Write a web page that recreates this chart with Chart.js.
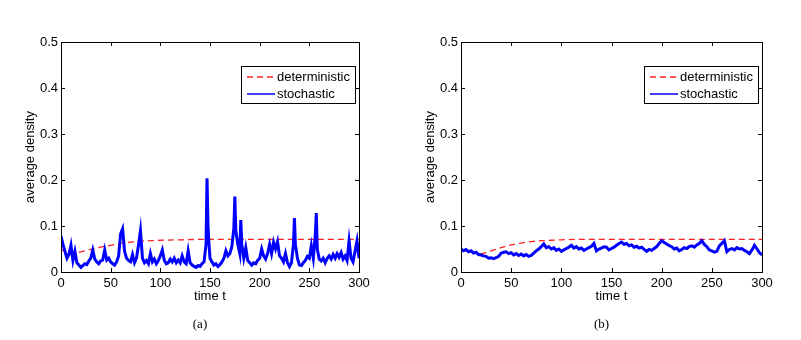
<!DOCTYPE html>
<html lang="en">
<head>
    <meta charset="UTF-8">
    <title>Average density</title>
    <script src="https://cdn.jsdelivr.net/npm/chart.js"></script>
    <style>
        body { margin: 0; background: #fff; }
        .panel { position: absolute; top: 0; }
    </style>
</head>
<body>

    <!-- two panels side by side -->
    <canvas id="panelA" class="panel" style="left:0" width="400" height="340"></canvas>
    <canvas id="panelB" class="panel" style="left:400px" width="401" height="340"></canvas>

    <script>
        // tick values shared by both panels
        const xTicks = [0, 50, 100, 150, 200, 250, 300];
        const yTicks = [0, 0.1, 0.2, 0.3, 0.4, 0.5];
        const yTickLabels = ['0', '0.1', '0.2', '0.3', '0.4', '0.5'];

        // panel (a)
        const timeA = [0, 2, 4, 6, 8, 10, 12, 14, 16, 18, 20, 22, 24, 26, 28, 30, 32, 34, 36, 38,
            40, 42, 44, 46, 48, 50, 52, 54, 56, 58, 60, 62, 64, 66, 68, 70, 72, 74, 76, 78,
            80, 82, 84, 86, 88, 90, 92, 94, 96, 98, 100, 102, 104, 106, 108, 110, 112, 114, 116, 118,
            120, 122, 124, 126, 128, 130, 132, 134, 136, 138, 140, 142, 144, 146, 147, 148, 149, 150, 152, 154,
            156, 158, 160, 162, 164, 166, 168, 170, 172, 174, 175, 176, 178, 180, 181, 182, 184, 186, 188, 190,
            192, 194, 196, 198, 200, 202, 204, 206, 208, 210, 212, 214, 216, 218, 220, 222, 224, 226, 228, 230,
            232, 234, 235, 236, 238, 240, 242, 244, 246, 248, 250, 252, 254, 256, 257, 258, 260, 262, 264, 266,
            268, 270, 272, 274, 276, 278, 280, 282, 284, 286, 288, 290, 292, 294, 296, 298, 300];
        const stochA = [0.078, 0.060, 0.045, 0.030, 0.038, 0.058, 0.025, 0.045, 0.020, 0.015, 0.010, 0.014, 0.018, 0.016, 0.024, 0.030, 0.048, 0.028, 0.022, 0.018,
            0.024, 0.026, 0.048, 0.026, 0.030, 0.022, 0.018, 0.015, 0.022, 0.035, 0.083, 0.094, 0.045, 0.030, 0.025, 0.022, 0.038, 0.020, 0.030, 0.058,
            0.090, 0.030, 0.020, 0.025, 0.018, 0.040, 0.022, 0.028, 0.018, 0.025, 0.035, 0.048, 0.025, 0.018, 0.020, 0.028, 0.022, 0.030, 0.020, 0.026,
            0.020, 0.035, 0.022, 0.018, 0.046, 0.020, 0.015, 0.012, 0.010, 0.014, 0.012, 0.018, 0.022, 0.060, 0.204, 0.100, 0.060, 0.030, 0.022, 0.015,
            0.018, 0.012, 0.016, 0.022, 0.030, 0.046, 0.035, 0.040, 0.055, 0.095, 0.164, 0.090, 0.060, 0.040, 0.113, 0.060, 0.030, 0.053, 0.025, 0.020,
            0.015, 0.020, 0.018, 0.025, 0.030, 0.050, 0.035, 0.028, 0.040, 0.060, 0.040, 0.065, 0.050, 0.066, 0.035, 0.030, 0.022, 0.040, 0.020, 0.012,
            0.020, 0.060, 0.117, 0.060, 0.030, 0.015, 0.014, 0.020, 0.025, 0.034, 0.030, 0.057, 0.030, 0.080, 0.128, 0.050, 0.028, 0.024, 0.030, 0.020,
            0.030, 0.035, 0.028, 0.038, 0.030, 0.040, 0.032, 0.042, 0.028, 0.035, 0.025, 0.068, 0.030, 0.022, 0.045, 0.068, 0.030];
        const detTimeA = [0, 5, 8, 12, 20, 30, 40, 50, 60, 70, 80, 90, 100, 120, 150, 200, 250, 300];
        const detA = [0.050, 0.042, 0.038, 0.039, 0.044, 0.049, 0.054, 0.058, 0.062, 0.065, 0.067, 0.068, 0.069, 0.070, 0.071, 0.071, 0.071, 0.071];

        // panel (b)
        const timeB = [0, 2.5, 5, 7.5, 10, 12.5, 15, 17.5, 20, 22.5, 25, 27.5, 30, 32.5, 35, 37.5, 40, 42.5, 45, 47.5,
            50, 52.5, 55, 57.5, 60, 62.5, 65, 67.5, 70, 72.5, 75, 77.5, 80, 82.5, 85, 87.5, 90, 92.5, 95, 97.5,
            100, 102.5, 105, 107.5, 110, 112.5, 115, 117.5, 120, 122.5, 125, 127.5, 130, 132.5, 135, 137.5, 140, 142.5, 145, 147.5,
            150, 152.5, 155, 157.5, 160, 162.5, 165, 167.5, 170, 172.5, 175, 177.5, 180, 182.5, 185, 187.5, 190, 192.5, 195, 197.5,
            200, 202.5, 205, 207.5, 210, 212.5, 215, 217.5, 220, 222.5, 225, 227.5, 230, 232.5, 235, 237.5, 240, 242.5, 245, 247.5,
            250, 252.5, 255, 257.5, 260, 262.5, 265, 267.5, 270, 272.5, 275, 277.5, 280, 282.5, 285, 287.5, 290, 292.5, 295, 297.5, 300];
        const stochB = [0.050, 0.046, 0.049, 0.044, 0.046, 0.041, 0.043, 0.038, 0.037, 0.035, 0.034, 0.030, 0.031, 0.029, 0.031, 0.034, 0.041, 0.043, 0.044, 0.040,
            0.042, 0.037, 0.040, 0.036, 0.039, 0.035, 0.038, 0.034, 0.036, 0.041, 0.046, 0.050, 0.055, 0.061, 0.053, 0.055, 0.050, 0.053, 0.047, 0.050,
            0.045, 0.048, 0.051, 0.054, 0.058, 0.052, 0.055, 0.050, 0.052, 0.047, 0.050, 0.053, 0.056, 0.062, 0.046, 0.050, 0.052, 0.055, 0.054, 0.048,
            0.051, 0.054, 0.058, 0.062, 0.065, 0.060, 0.062, 0.057, 0.059, 0.054, 0.056, 0.052, 0.054, 0.049, 0.045, 0.049, 0.047, 0.051, 0.055, 0.062,
            0.068, 0.064, 0.061, 0.057, 0.055, 0.050, 0.052, 0.046, 0.049, 0.053, 0.051, 0.055, 0.057, 0.054, 0.059, 0.062, 0.068, 0.060, 0.055, 0.048,
            0.046, 0.043, 0.045, 0.057, 0.062, 0.068, 0.044, 0.049, 0.051, 0.048, 0.053, 0.050, 0.051, 0.047, 0.044, 0.040, 0.048, 0.058, 0.050, 0.042, 0.037];
        const detTimeB = [0, 5, 10, 15, 20, 25, 30, 40, 50, 60, 70, 80, 90, 100, 125, 150, 200, 250, 300];
        const detB = [0.050, 0.046, 0.043, 0.041, 0.040, 0.042, 0.046, 0.053, 0.059, 0.063, 0.066, 0.068, 0.069, 0.070, 0.071, 0.071, 0.071, 0.071, 0.071];

        const FONT = '13px "Liberation Sans", Arial, sans-serif';

        // MATLAB-like frame: box, inward ticks, axis titles, legend, caption
        const matlabFrame = {
            id: 'matlabFrame',
            afterDraw(chart, args, opts) {
                const ctx = chart.ctx;
                const a = chart.chartArea;
                const xs = chart.scales.x, ys = chart.scales.y;
                const tl = 4;
                ctx.save();
                ctx.strokeStyle = '#000';
                ctx.lineWidth = 1;
                ctx.beginPath();
                xTicks.forEach(v => {
                    const px = Math.round(xs.getPixelForValue(v)) + 0.5;
                    ctx.moveTo(px, a.bottom); ctx.lineTo(px, a.bottom - tl);
                    ctx.moveTo(px, a.top); ctx.lineTo(px, a.top + tl);
                });
                yTicks.forEach(v => {
                    const py = Math.round(ys.getPixelForValue(v)) + 0.5;
                    ctx.moveTo(a.left, py); ctx.lineTo(a.left + tl, py);
                    ctx.moveTo(a.right, py); ctx.lineTo(a.right - tl, py);
                });
                ctx.stroke();
                ctx.strokeRect(Math.round(a.left) + 0.5, Math.round(a.top) + 0.5,
                    Math.round(a.right - a.left), Math.round(a.bottom - a.top));

                // axis titles
                ctx.fillStyle = '#000';
                ctx.font = FONT;
                ctx.textAlign = 'center';
                ctx.textBaseline = 'middle';
                ctx.fillText('time t', (a.left + a.right) / 2, 296);
                ctx.save();
                ctx.translate(a.left - 31, (a.top + a.bottom) / 2);
                ctx.rotate(-Math.PI / 2);
                ctx.fillText('average density', 0, 0);
                ctx.restore();

                // caption
                ctx.font = '13px "Liberation Serif", "Times New Roman", serif';
                ctx.fillText(opts.caption, (a.left + a.right) / 2 - 10, 325);

                // legend box
                const bw = 114, bh = 37;
                const bx = Math.round(a.right) - 4 - bw, by = Math.round(a.top) + 24;
                ctx.fillStyle = '#fff';
                ctx.fillRect(bx, by, bw, bh);
                ctx.strokeStyle = '#000';
                ctx.strokeRect(bx + 0.5, by + 0.5, bw, bh);
                const legendOrder = [1, 0];
                legendOrder.forEach((di, i) => {
                    const ds = chart.data.datasets[di];
                    const ly = by + 11 + i * 17;
                    ctx.beginPath();
                    ctx.strokeStyle = ds.borderColor;
                    ctx.lineWidth = 1.5;
                    ctx.setLineDash(ds.borderDash || []);
                    ctx.moveTo(bx + 6, ly); ctx.lineTo(bx + 34, ly);
                    ctx.stroke();
                    ctx.setLineDash([]);
                    ctx.fillStyle = '#000';
                    ctx.font = FONT;
                    ctx.textAlign = 'left';
                    ctx.fillText(ds.label, bx + 36, ly);
                });
                ctx.restore();
            }
        };

        function makePanel(canvasId, caption, tStoch, vStoch, tDet, vDet, rightPad, lineW) {
            const ctx = document.getElementById(canvasId).getContext('2d');
            return new Chart(ctx, {
                type: 'line',
                data: {
                    datasets: [{
                        label: 'stochastic',
                        data: tStoch.map((t, i) => ({ x: t, y: vStoch[i] })),
                        borderColor: '#0000ff',
                        borderWidth: lineW,
                        pointRadius: 0,
                        order: 0
                    }, {
                        label: 'deterministic',
                        data: tDet.map((t, i) => ({ x: t, y: vDet[i] })),
                        borderColor: '#ff2020',
                        borderWidth: 1.3,
                        borderDash: [6, 4],
                        pointRadius: 0,
                        cubicInterpolationMode: 'monotone',
                        order: 1
                    }]
                },
                options: {
                    responsive: false,
                    animation: false,
                    layout: { padding: { top: 42, right: rightPad, left: 0, bottom: 0 } },
                    plugins: {
                        legend: { display: false },
                        tooltip: { enabled: false },
                        matlabFrame: { caption: caption }
                    },
                    scales: {
                        x: {
                            type: 'linear', min: 0, max: 300,
                            grid: { display: false, drawTicks: false }, border: { display: false },
                            afterBuildTicks: s => { s.ticks = xTicks.map(v => ({ value: v })); },
                            afterFit: s => { s.height = 68; },
                            ticks: { color: '#000', font: { family: '"Liberation Sans", Arial', size: 13 }, padding: 4, maxRotation: 0 }
                        },
                        y: {
                            type: 'linear', min: 0, max: 0.5,
                            grid: { display: false, drawTicks: false }, border: { display: false },
                            afterBuildTicks: s => { s.ticks = yTicks.map(v => ({ value: v })); },
                            afterFit: s => { s.width = 61; },
                            ticks: {
                                color: '#000', font: { family: '"Liberation Sans", Arial', size: 13 }, padding: 3,
                                callback: v => yTickLabels[yTicks.indexOf(v)]
                            }
                        }
                    }
                },
                plugins: [matlabFrame]
            });
        }

        makePanel('panelA', '(a)', timeA, stochA, detTimeA, detA, 41, 3);
        makePanel('panelB', '(b)', timeB, stochB, detTimeB, detB, 39, 3);
    </script>

</body>
</html>
